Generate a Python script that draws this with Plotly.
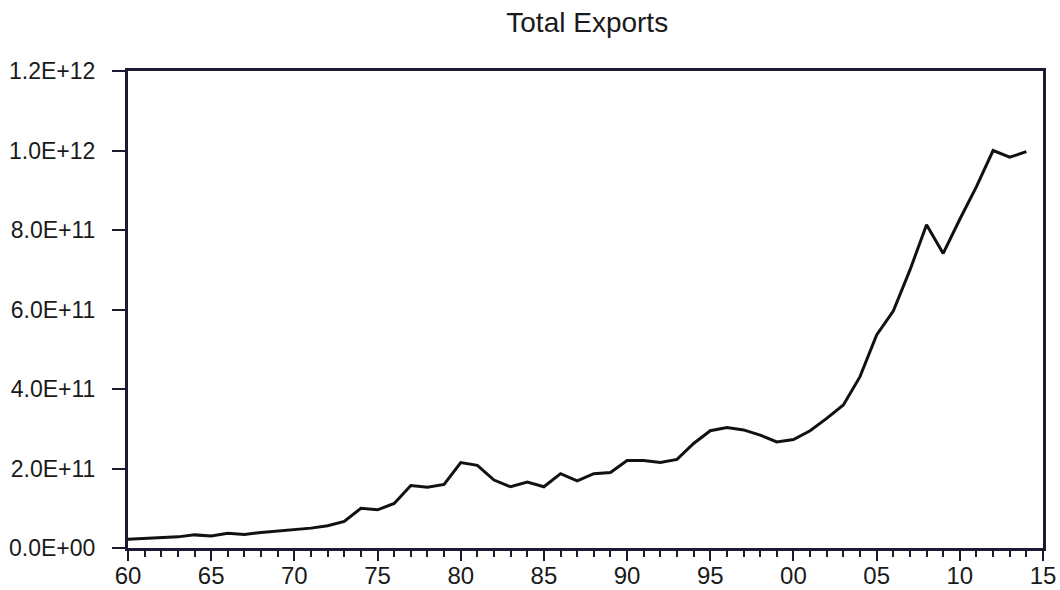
import plotly.graph_objects as go

years = list(range(1960, 2015))
exports = [
    2.2e10, 2.4e10, 2.6e10, 2.8e10, 3.3e10, 3.0e10, 3.7e10, 3.4e10, 3.9e10, 4.3e10,
    4.6e10, 5.0e10, 5.6e10, 6.7e10, 1.00e11, 9.6e10, 1.12e11, 1.57e11, 1.53e11, 1.60e11,
    2.15e11, 2.08e11, 1.71e11, 1.54e11, 1.66e11, 1.54e11, 1.87e11, 1.69e11, 1.87e11, 1.90e11,
    2.20e11, 2.20e11, 2.15e11, 2.23e11, 2.63e11, 2.95e11, 3.03e11, 2.97e11, 2.84e11, 2.67e11,
    2.73e11, 2.95e11, 3.26e11, 3.60e11, 4.31e11, 5.36e11, 5.96e11, 6.99e11, 8.13e11, 7.41e11,
    8.27e11, 9.09e11, 1.00e12, 9.83e11, 9.97e11,
]
x_tick_vals = [1960, 1965, 1970, 1975, 1980, 1985, 1990, 1995, 2000, 2005, 2010, 2015]
x_tick_text = ["60", "65", "70", "75", "80", "85", "90", "95", "00", "05", "10", "15"]
y_tick_vals = [0, 2e11, 4e11, 6e11, 8e11, 1e12, 1.2e12]
y_tick_text = ["0.0E+00", "2.0E+11", "4.0E+11", "6.0E+11", "8.0E+11", "1.0E+12", "1.2E+12"]

axis_color = "#1a1a30"
text_color = "#1a1a1a"
font_family = "Liberation Sans, Arial, sans-serif"

fig = go.Figure()
fig.add_trace(go.Scatter(
    x=years, y=exports, mode="lines",
    line=dict(color="#111111", width=3),
    showlegend=False,
))

fig.update_layout(
    width=1060, height=590,
    margin=dict(l=128, r=17, t=71, b=42),
    paper_bgcolor="white", plot_bgcolor="white",
    title=dict(text="Total Exports", x=0.554, xanchor="center", y=0.963, yanchor="middle",
               font=dict(family=font_family, size=28, color=text_color)),
    font=dict(family=font_family, size=24, color=text_color),
)

fig.update_xaxes(
    range=[1960, 2015], automargin=False,
    tickmode="array", tickvals=x_tick_vals, ticktext=x_tick_text,
    ticks="outside", ticklen=10, tickwidth=2, tickcolor=axis_color,
    ticklabelstandoff=-6,
    minor=dict(dtick=1, tick0=1960, ticks="outside", ticklen=6, tickwidth=2, tickcolor=axis_color),
    showline=True, linewidth=3, linecolor=axis_color, mirror=True,
    showgrid=False, zeroline=False,
    tickfont=dict(family=font_family, size=24, color=text_color),
)
fig.update_yaxes(
    range=[0, 1.2e12], automargin=False,
    tickmode="array", tickvals=y_tick_vals, ticktext=y_tick_text,
    ticks="outside", ticklen=13, tickwidth=2, tickcolor=axis_color,
    ticklabelstandoff=12,
    showline=True, linewidth=3, linecolor=axis_color, mirror=True,
    showgrid=False, zeroline=False,
    tickfont=dict(family=font_family, size=23, color=text_color),
)

fig.write_html("out.html")
